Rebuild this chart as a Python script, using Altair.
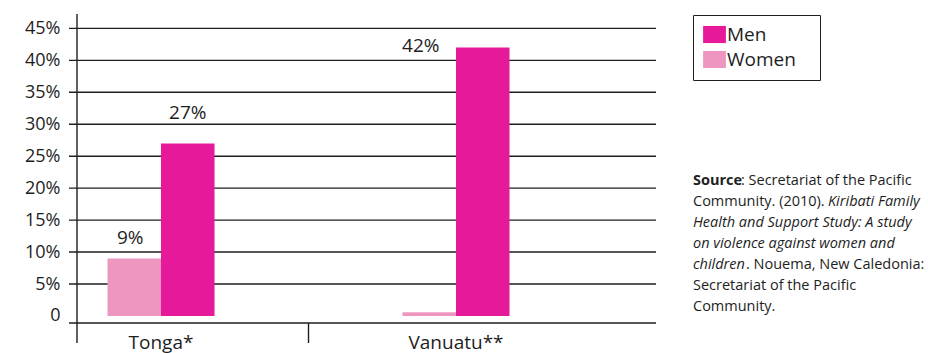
import altair as alt
import pandas as pd

# ---- data -------------------------------------------------------------
countries = ["Tonga*", "Tonga*", "Vanuatu**", "Vanuatu**"]
sexes = ["Women", "Men", "Women", "Men"]
values = [9, 27, 0.6, 42]
value_labels = ["9%", "27%", "", "42%"]

category_order = ["Tonga*", "Vanuatu**"]
series_order = ["Men", "Women"]
series_colors = ["#E5199A", "#EE96C0"]
y_ticks = [0, 5, 10, 15, 20, 25, 30, 35, 40, 45]

source_lines = [
    [("Source", "bold"), (": Secretariat of the Pacific", "normal")],
    [("Community. (2010). ", "normal"), ("Kiribati Family", "italic")],
    [("Health and Support Study: A study", "italic")],
    [("on violence against women and", "italic")],
    [("children", "italic"), (". Nouema, New Caledonia:", "normal")],
    [("Secretariat of the Pacific", "normal")],
    [("Community.", "normal")],
]
# left edge of each run (px from the plot's left edge)
source_run_x = [[616, 664], [616, 751], [616], [616], [616, 669], [616], [616]]

# ---- styling ------------------------------------------------------------
W, H = 579, 308
FONT = "Open Sans"
INK = "#1e1e1e"

df = pd.DataFrame({"country": countries, "sex": sexes,
                   "value": values, "label": value_labels})
grid_df = pd.DataFrame({"value": [v for v in y_ticks if v > 0]})

x_scale = alt.Scale(domain=category_order, range=[-63.5, 526.5],
                    paddingInner=0, paddingOuter=0)
y_scale = alt.Scale(domain=[-1.1, 47.1], nice=False, zero=False)

x_axis = alt.Axis(title=None, domain=False, ticks=False, grid=False, labelAngle=0,
                  labelFont=FONT, labelFontSize=19, labelColor=INK, labelPadding=10)
y_axis = alt.Axis(values=y_ticks, title=None, domain=False, ticks=False, grid=False,
                  labelExpr="datum.value == 0 ? '0' : datum.value + '%'",
                  labelFont=FONT, labelFontSize=18, labelColor=INK, labelPadding=17)

x_enc = alt.X("country:N", scale=x_scale, axis=x_axis)
y_enc = alt.Y("value:Q", scale=y_scale, axis=y_axis)
# the pair of bars sits in the left half of each category band
xoff = alt.XOffset("sex:N", sort=["Women", "Men"],
                   scale=alt.Scale(range=[94, 201], paddingInner=0, paddingOuter=0))

# horizontal gridlines, each reaching 8px left of the axis as a tick
grid = alt.Chart(grid_df).mark_rule(color=INK, strokeWidth=1.4).encode(
    y=y_enc, x=alt.value(-8), x2=alt.value(W))

bars = alt.Chart(df).mark_bar(strokeWidth=0).encode(
    x=x_enc,
    xOffset=xoff,
    y=y_enc,
    y2=alt.datum(0),
    color=alt.Color("sex:N", scale=alt.Scale(domain=series_order, range=series_colors),
                    legend=alt.Legend(title=None, orient="none", legendX=616, legendY=0,
                                      strokeColor=INK, padding=10, symbolOffset=2,
                                      symbolType="M-1.2,-0.9H1.2V0.9H-1.2Z",
                                      symbolSize=361, symbolStrokeWidth=0, symbolOpacity=1,
                                      labelExpr="datum.label + '\u2800'",
                                      labelFont=FONT, labelFontSize=19, labelColor=INK,
                                      labelOffset=3, rowPadding=5)),
)

label_base = alt.Chart(df).encode(x=x_enc, xOffset=xoff, y=y_enc, text="label:N")
tonga_men_label = label_base.transform_filter(
    "datum.country == 'Tonga*' && datum.sex == 'Men'").mark_text(
    font=FONT, fontSize=19, color=INK, baseline="middle", dy=-30)
tonga_women_label = label_base.transform_filter(
    "datum.country == 'Tonga*' && datum.sex == 'Women'").mark_text(
    font=FONT, fontSize=19, color=INK, baseline="middle", dx=-4, dy=-20)
vanuatu_labels = label_base.transform_filter(
    "datum.country == 'Vanuatu**' && datum.label != ''").mark_text(
    font=FONT, fontSize=19, color=INK, baseline="middle", dx=-62, dy=-2)

# axis lines
y_line = alt.Chart(pd.DataFrame({"k": [0]})).mark_rule(color=INK, strokeWidth=1.4).encode(
    x=alt.value(0), y=alt.value(-1), y2=alt.value(H + 20))
base_line = alt.Chart(pd.DataFrame({"k": [0]})).mark_rule(color=INK, strokeWidth=1.4).encode(
    x=alt.value(-8), x2=alt.value(W), y=alt.value(H))
separator = alt.Chart(pd.DataFrame({"country": ["Vanuatu**"]})).mark_rule(
    color=INK, strokeWidth=1.4).encode(
    x=alt.X("country:N", scale=x_scale, axis=x_axis, bandPosition=0),
    y=alt.value(H), y2=alt.value(H + 20))

# source note, one text mark per style
rows = []
for i, (runs, xs) in enumerate(zip(source_lines, source_run_x)):
    for (txt, style), px in zip(runs, xs):
        rows.append({"t": txt, "style": style, "px": px, "py": 165.5 + 21 * i})
src = pd.DataFrame(rows)
src_layers = []
for style in ["normal", "bold", "italic"]:
    kw = {"fontWeight": "bold"} if style == "bold" else {}
    if style == "italic":
        kw["fontStyle"] = "italic"
    src_layers.append(
        alt.Chart(src).transform_filter(f"datum.style == '{style}'").mark_text(
            font=FONT, fontSize=14.5, color=INK, align="left", baseline="middle", **kw
        ).encode(x=alt.X("px:Q", scale=None, axis=None),
                 y=alt.Y("py:Q", scale=None, axis=None), text="t:N")
    )

chart = alt.layer(grid, bars, tonga_men_label, tonga_women_label, vanuatu_labels,
                  y_line, base_line, separator, *src_layers).properties(
    width=W, height=H,
    padding={"left": 77, "top": 15, "right": 272, "bottom": 30},
    autosize=alt.AutoSizeParams(type="none"),
    background="white",
).configure_view(stroke=None)

chart.save("out.html", embed_options={"renderer": "svg", "actions": False})
